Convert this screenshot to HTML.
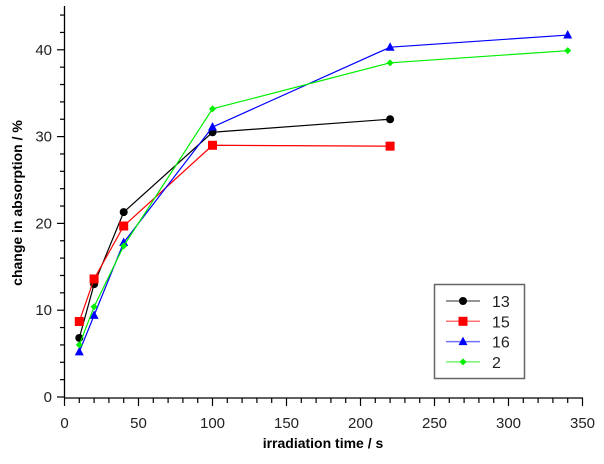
<!DOCTYPE html><html><head><style>body{margin:0;background:#fff}</style></head><body>
<svg width="604" height="459" xmlns="http://www.w3.org/2000/svg" font-family="Liberation Sans, sans-serif">
<script>
</script>
<g stroke="#000" stroke-width="1.3" fill="none">
<line x1="64.5" y1="6" x2="64.5" y2="398"/>
<line x1="64" y1="398" x2="583" y2="398"/>
</g>
<g id="t" stroke="#000" stroke-width="1.2"></g>
<g font-size="15" fill="#222" id="lab"></g>
<text x="323" y="448" font-size="14" font-weight="bold" text-anchor="middle">irradiation time / s</text>
<text transform="translate(22,203) rotate(-90)" font-size="14" font-weight="bold" text-anchor="middle">change in absorption / %</text>
<g id="d"></g>
<rect x="434.5" y="284.5" width="90" height="94" fill="#fff" stroke="#666" stroke-width="1.5"/>
<g id="lg"></g>
<script>
var X=v=>64.5+v*1.48,Y=v=>397-v*8.68,ns="http://www.w3.org/2000/svg";
function el(p,t,a,txt){var e=document.createElementNS(ns,t);for(var k in a)e.setAttribute(k,a[k]);if(txt!=null)e.textContent=txt;document.getElementById(p).appendChild(e);return e;}
for(var v=0;v<=350;v+=10){var M=v%50==0;el('t','line',{x1:X(v),x2:X(v),y1:398,y2:M?406:403});if(M)el('lab','text',{x:X(v),y:428,'text-anchor':'middle'},v);}
for(var v=0;v<=44;v+=2){var M=v%10==0;el('t','line',{x1:M?57:60,x2:64,y1:Y(v),y2:Y(v)});if(M)el('lab','text',{x:52,y:Y(v)+5,'text-anchor':'end'},v);}
var S=[["#000","c",[[10,6.8],[20,13],[40,21.3],[100,30.5],[220,32]],"13"],
["#f00","s",[[10,8.7],[20,13.6],[40,19.7],[100,29],[220,28.9]],"15"],
["#00f","t",[[10,5.2],[20,9.4],[40,17.8],[100,31.1],[220,40.3],[340,41.7]],"16"],
["#0e0","d",[[10,6],[20,10.4],[40,17.4],[100,33.2],[220,38.5],[340,39.9]],"2"]];
function mk(g,c,m,x,y){if(m=="c")el(g,'circle',{cx:x,cy:y,r:4,fill:c});else if(m=="s")el(g,'rect',{x:x-4.5,y:y-4.5,width:9,height:9,fill:c});else if(m=="t")el(g,'polygon',{points:(x)+","+(y-5)+" "+(x-4.5)+","+(y+3.5)+" "+(x+4.5)+","+(y+3.5),fill:c});else el(g,'polygon',{points:x+","+(y-3.5)+" "+(x+3.5)+","+y+" "+x+","+(y+3.5)+" "+(x-3.5)+","+y,fill:c});}
S.forEach(function(s,i){el('d','polyline',{points:s[2].map(p=>X(p[0])+","+Y(p[1])).join(" "),fill:"none",stroke:s[0],'stroke-width':1.2});s[2].forEach(p=>mk('d',s[0],s[1],X(p[0]),Y(p[1])));
var y=301+i*20.3;el('lg','line',{x1:446,x2:480,y1:y,y2:y,stroke:s[0],'stroke-opacity':0.55,'stroke-width':1.5});mk('lg',s[0],s[1],463,y);el('lg','text',{x:492,y:y+6,'font-size':16,fill:'#222'},s[3]);});
</script>
</svg></body></html>
